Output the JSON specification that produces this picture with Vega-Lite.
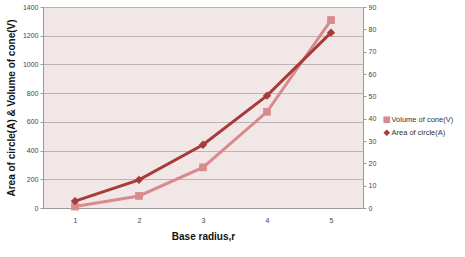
{
  "$schema": "https://vega.github.io/schema/vega-lite/v6.json",
  "autosize": {"type": "none"},
  "width": 320,
  "height": 201,
  "padding": {"left": 43, "top": 7, "right": 102, "bottom": 49},
  "background": "white",
  "data": {"values": [
    {"r": "1", "V": 10, "A": 3.1},
    {"r": "2", "V": 84, "A": 12.6},
    {"r": "3", "V": 283, "A": 28.3},
    {"r": "4", "V": 670, "A": 50.3},
    {"r": "5", "V": 1309, "A": 78.5}
  ]},
  "encoding": {
    "x": {
      "field": "r", "type": "ordinal",
      "scale": {"type": "point", "padding": 0.5},
      "axis": {"labelAngle": 0, "title": "Base radius,r", "domainColor": "#9a9a9a", "ticks": false, "labelPadding": 8, "titlePadding": 8,
        "titleFontSize": 10, "titleFontWeight": "bold", "titleColor": "#111"}
    }
  },
  "layer": [
    {
      "mark": {"type": "line", "strokeWidth": 3, "point": {"size": 60, "filled": true}},
      "encoding": {
        "y": {"field": "V", "type": "quantitative",
          "scale": {"domain": [0, 1400], "nice": false},
          "axis": {"orient": "left", "values": [0,200,400,600,800,1000,1200,1400], "format": "d", "grid": true, "gridColor": "#bdb3b3",
            "title": "Area of circle(A) & Volume of cone(V)", "titleFontSize": 10, "titleFontWeight": "bold", "titleColor": "#111", "titlePadding": 6,
            "domainColor": "#9a9a9a", "tickColor": "#9a9a9a", "tickSize": 3}},
        "color": {"datum": "Volume of cone(V)", "scale": {"domain": ["Volume of cone(V)", "Area of circle(A)"], "range": ["#d98a8d", "#a83a3a"]}},
        "shape": {"datum": "Volume of cone(V)", "scale": {"domain": ["Volume of cone(V)", "Area of circle(A)"], "range": ["square", "diamond"]}}
      }
    },
    {
      "mark": {"type": "line", "strokeWidth": 3, "point": {"size": 70, "filled": true}},
      "encoding": {
        "y": {"field": "A", "type": "quantitative",
          "scale": {"domain": [0, 90], "nice": false},
          "axis": {"orient": "right", "values": [0,10,20,30,40,50,60,70,80,90], "grid": false, "title": null,
            "domainColor": "#9a9a9a", "tickColor": "#9a9a9a", "tickSize": 3}},
        "color": {"datum": "Area of circle(A)"},
        "shape": {"datum": "Area of circle(A)"}
      }
    }
  ],
  "resolve": {"scale": {"y": "independent"}},
  "config": {
    "view": {"fill": "#f2e7e7", "stroke": "#a8a0a0"},
    "font": "Liberation Sans",
    "axis": {"labelFontSize": 7, "labelColor": "#444"},
    "legend": {"orient": "none", "legendX": 340, "legendY": 109, "title": null, "labelFontSize": 7.5, "labelColor": "#333", "symbolSize": 45, "rowPadding": 4, "labelOffset": 1, "symbolStrokeWidth": 0}
  }
}
